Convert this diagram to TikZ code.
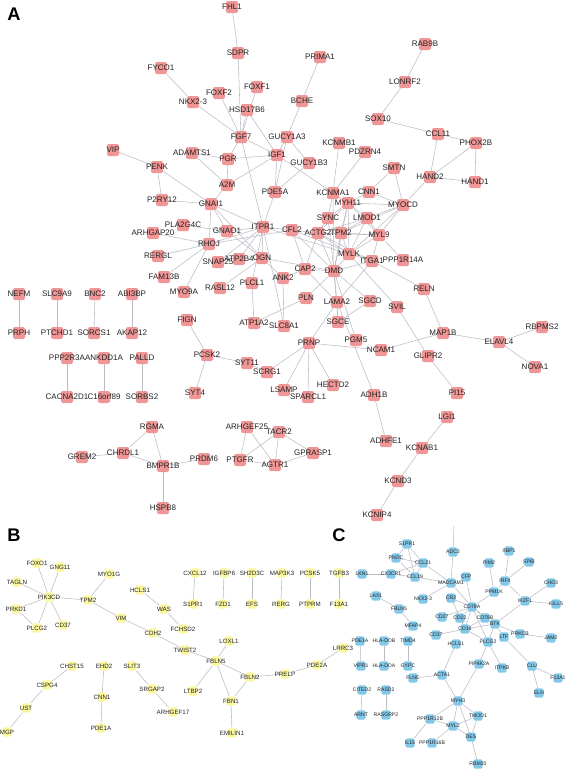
\documentclass[tikz,border=0pt]{standalone}
\usepackage{fontspec}
\setmainfont{Liberation Sans}
\usetikzlibrary{backgrounds}
\definecolor{apink}{RGB}{240,150,150}
\definecolor{byellow}{RGB}{252,248,160}
\definecolor{cblue}{RGB}{132,200,232}
\definecolor{edgegray}{RGB}{188,188,198}
\definecolor{labtext}{RGB}{35,35,35}
\newcommand\alab{\fontsize{11.4}{12}\selectfont}
\newcommand\blab{\fontsize{8.8}{9}\selectfont}
\newcommand\clab{\fontsize{7.3}{8}\selectfont}

\begin{document}
\begin{tikzpicture}[
    x=0.5mm, y=-0.5mm,
    apk/.style={fill=apink, rounded corners=1mm, minimum size=6mm, inner sep=0pt, label={[font=\alab, text=labtext]center:#1}},
    byl/.style={fill=byellow, rounded corners=0.8mm, minimum size=4.6mm, inner sep=0pt, label={[font=\blab, text=labtext]center:#1}},
    cbl/.style={fill=cblue, rounded corners=0.8mm, minimum size=4.6mm, inner sep=0pt, label={[font=\clab, text=labtext]center:#1}},
    edge/.style={draw=edgegray, line width=0.8pt},
    panel/.style={font=\fontsize{26}{28}\selectfont\bfseries, text=black}
]
\useasboundingbox (0,0) rectangle (567,770);
\node[panel] (labA) at (14,14) {A};
\node[panel] (labB) at (14,535) {B};
\node[panel] (labC) at (339,535) {C};
% panel A
\node[apk=FHL1] (aFHL1) at (232,7) {};
\node[apk=SDPR] (aSDPR) at (238,53) {};
\node[apk=FYCO1] (aFYCO1) at (161,68) {};
\node[apk=FOXF2] (aFOXF2) at (219,93) {};
\node[apk=FOXF1] (aFOXF1) at (257,87) {};
\node[apk=NKX2-3] (aNKX23) at (193,102) {};
\node[apk=HSD17B6] (aHSD17B6) at (247,110) {};
\node[apk=FGF7] (aFGF7) at (241,137) {};
\node[apk=GUCY1A3] (aGUCY1A3) at (287,137) {};
\node[apk=ADAMTS1] (aADAMTS1) at (192,153) {};
\node[apk=PGR] (aPGR) at (228,159) {};
\node[apk=IGF1] (aIGF1) at (277,155) {};
\node[apk=VIP] (aVIP) at (113,150) {};
\node[apk=PENK] (aPENK) at (157,167) {};
\node[apk=A2M] (aA2M) at (227,185) {};
\node[apk=PDE5A] (aPDE5A) at (275,192) {};
\node[apk=RAB9B] (aRAB9B) at (425,44) {};
\node[apk=PRIMA1] (aPRIMA1) at (320,57) {};
\node[apk=LONRF2] (aLONRF2) at (405,82) {};
\node[apk=BCHE] (aBCHE) at (302,101) {};
\node[apk=SOX10] (aSOX10) at (378,119) {};
\node[apk=CCL11] (aCCL11) at (438,134) {};
\node[apk=PHOX2B] (aPHOX2B) at (476,143) {};
\node[apk=KCNMB1] (aKCNMB1) at (339,143) {};
\node[apk=PDZRN4] (aPDZRN4) at (365,152) {};
\node[apk=GUCY1B3] (aGUCY1B3) at (309,163) {};
\node[apk=SMTN] (aSMTN) at (394,168) {};
\node[apk=HAND2] (aHAND2) at (430,177) {};
\node[apk=HAND1] (aHAND1) at (475,182) {};
\node[apk=P2RY12] (aP2RY12) at (162,200) {};
\node[apk=GNAI1] (aGNAI1) at (211,204) {};
\node[apk=PLA2G4C] (aPLA2G4C) at (183,225) {};
\node[apk=ARHGAP20] (aARHGAP20) at (153,233) {};
\node[apk=GNAO1] (aGNAO1) at (227,231) {};
\node[apk=ITPR1] (aITPR1) at (263,227) {};
\node[apk=RHOJ] (aRHOJ) at (209,244) {};
\node[apk=RERGL] (aRERGL) at (158,256) {};
\node[apk=SNAP25] (aSNAP25) at (218,262) {};
\node[apk=ATP2B4] (aATP2B4) at (239,259) {};
\node[apk=OGN] (aOGN) at (262,258) {};
\node[apk=FAM13B] (aFAM13B) at (164,277) {};
\node[apk=MYO9A] (aMYO9A) at (184,292) {};
\node[apk=RASL12] (aRASL12) at (220,288) {};
\node[apk=PLCL1] (aPLCL1) at (252,283) {};
\node[apk=ANK2] (aANK2) at (283,278) {};
\node[apk=NEFM] (aNEFM) at (19,294) {};
\node[apk=SLC9A9] (aSLC9A9) at (57,294) {};
\node[apk=BNC2] (aBNC2) at (95,294) {};
\node[apk=ABI3BP] (aABI3BP) at (132,294) {};
\node[apk=PRPH] (aPRPH) at (19,333) {};
\node[apk=PTCHD1] (aPTCHD1) at (57,333) {};
\node[apk=SORCS1] (aSORCS1) at (94,333) {};
\node[apk=AKAP12] (aAKAP12) at (132,333) {};
\node[apk=FIGN] (aFIGN) at (187,320) {};
\node[apk=ATP1A2] (aATP1A2) at (254,323) {};
\node[apk=SLC8A1] (aSLC8A1) at (284,326) {};
\node[apk=PPP2R3A] (aPPP2R3A) at (67,358) {};
\node[apk=ANKDD1A] (aANKDD1A) at (104,358) {};
\node[apk=PALLD] (aPALLD) at (142,358) {};
\node[apk=PCSK2] (aPCSK2) at (207,355) {};
\node[apk=SYT11] (aSYT11) at (247,363) {};
\node[apk=KCNMA1] (aKCNMA1) at (333,193) {};
\node[apk=CNN1] (aCNN1) at (369,192) {};
\node[apk=MYH11] (aMYH11) at (348,203) {};
\node[apk=MYOCD] (aMYOCD) at (403,205) {};
\node[apk=SYNC] (aSYNC) at (328,218) {};
\node[apk=LMOD1] (aLMOD1) at (367,218) {};
\node[apk=CFL2] (aCFL2) at (292,230) {};
\node[apk=ACTG2] (aACTG2) at (318,233) {};
\node[apk=TPM2] (aTPM2) at (341,233) {};
\node[apk=MYL9] (aMYL9) at (379,235) {};
\node[apk=MYLK] (aMYLK) at (349,254) {};
\node[apk=ITGA1] (aITGA1) at (372,261) {};
\node[apk=PPP1R14A] (aPPP1R14A) at (403,260) {};
\node[apk=CAP2] (aCAP2) at (305,269) {};
\node[apk=DMD] (aDMD) at (334,271) {};
\node[apk=RELN] (aRELN) at (424,289) {};
\node[apk=PLN] (aPLN) at (306,298) {};
\node[apk=LAMA2] (aLAMA2) at (337,302) {};
\node[apk=SGCD] (aSGCD) at (370,301) {};
\node[apk=SVIL] (aSVIL) at (397,307) {};
\node[apk=SGCE] (aSGCE) at (338,322) {};
\node[apk=RBPMS2] (aRBPMS2) at (542,327) {};
\node[apk=MAP1B] (aMAP1B) at (443,333) {};
\node[apk=PGM5] (aPGM5) at (356,340) {};
\node[apk=ELAVL4] (aELAVL4) at (499,342) {};
\node[apk=PRNP] (aPRNP) at (309,343) {};
\node[apk=NCAM1] (aNCAM1) at (381,350) {};
\node[apk=GLIPR2] (aGLIPR2) at (428,356) {};
\node[apk=NOVA1] (aNOVA1) at (535,367) {};
\node[apk=CACNA2D1] (aCACNA2D1) at (67,397) {};
\node[apk=C16orf89] (aC16orf89) at (104,397) {};
\node[apk=SORBS2] (aSORBS2) at (142,397) {};
\node[apk=SYT4] (aSYT4) at (195,393) {};
\node[apk=SCRG1] (aSCRG1) at (267,372) {};
\node[apk=LSAMP] (aLSAMP) at (284,390) {};
\node[apk=HECTD2] (aHECTD2) at (333,385) {};
\node[apk=SPARCL1] (aSPARCL1) at (308,397) {};
\node[apk=ADH1B] (aADH1B) at (374,395) {};
\node[apk=PI15] (aPI15) at (457,393) {};
\node[apk=LGI1] (aLGI1) at (447,417) {};
\node[apk=RGMA] (aRGMA) at (152,427) {};
\node[apk=ARHGEF25] (aARHGEF25) at (247,427) {};
\node[apk=TACR2] (aTACR2) at (279,432) {};
\node[apk=GREM2] (aGREM2) at (82,457) {};
\node[apk=CHRDL1] (aCHRDL1) at (123,453) {};
\node[apk=PRDM6] (aPRDM6) at (204,459) {};
\node[apk=PTGFR] (aPTGFR) at (240,460) {};
\node[apk=BMPR1B] (aBMPR1B) at (163,466) {};
\node[apk=AGTR1] (aAGTR1) at (275,465) {};
\node[apk=HSPB8] (aHSPB8) at (163,508) {};
\node[apk=ADHFE1] (aADHFE1) at (386,441) {};
\node[apk=GPRASP1] (aGPRASP1) at (313,453) {};
\node[apk=KCNAB1] (aKCNAB1) at (422,448) {};
\node[apk=KCND3] (aKCND3) at (398,481) {};
\node[apk=KCNIP4] (aKCNIP4) at (377,515) {};
% panel B
\node[byl=FOXO1] (bFOXO1) at (37,563) {};
\node[byl=GNG11] (bGNG11) at (60,567) {};
\node[byl=TAGLN] (bTAGLN) at (17,582) {};
\node[byl=PIK3CD] (bPIK3CD) at (49,597) {};
\node[byl=MYO1G] (bMYO1G) at (109,574) {};
\node[byl=TPM2] (bTPM2) at (88,600) {};
\node[byl=HCLS1] (bHCLS1) at (140,590) {};
\node[byl=WAS] (bWAS) at (164,609) {};
\node[byl=PRKD1] (bPRKD1) at (16,609) {};
\node[byl=PLCG2] (bPLCG2) at (37,628) {};
\node[byl=CD37] (bCD37) at (63,625) {};
\node[byl=VIM] (bVIM) at (121,618) {};
\node[byl=FCHSD2] (bFCHSD2) at (183,629) {};
\node[byl=CDH2] (bCDH2) at (153,633) {};
\node[byl=TWIST2] (bTWIST2) at (185,650) {};
\node[byl=CHST15] (bCHST15) at (72,666) {};
\node[byl=EHD2] (bEHD2) at (104,666) {};
\node[byl=SLIT3] (bSLIT3) at (132,666) {};
\node[byl=CSPG4] (bCSPG4) at (47,685) {};
\node[byl=SRGAP2] (bSRGAP2) at (152,689) {};
\node[byl=CNN1] (bCNN1) at (102,697) {};
\node[byl=LTBP2] (bLTBP2) at (193,691) {};
\node[byl=UST] (bUST) at (26,708) {};
\node[byl=ARHGEF17] (bARHGEF17) at (173,712) {};
\node[byl=PDE1A] (bPDE1A) at (101,728) {};
\node[byl=MGP] (bMGP) at (7,732) {};
\node[byl=CXCL12] (bCXCL12) at (195,573) {};
\node[byl=IGFBP6] (bIGFBP6) at (224,573) {};
\node[byl=SH2D3C] (bSH2D3C) at (252,573) {};
\node[byl=MAP3K3] (bMAP3K3) at (282,573) {};
\node[byl=PCSK5] (bPCSK5) at (310,573) {};
\node[byl=TGFB3] (bTGFB3) at (339,573) {};
\node[byl=S1PR1] (bS1PR1) at (193,604) {};
\node[byl=FZD1] (bFZD1) at (223,604) {};
\node[byl=EFS] (bEFS) at (252,604) {};
\node[byl=RERG] (bRERG) at (281,604) {};
\node[byl=PTPRM] (bPTPRM) at (310,604) {};
\node[byl=F13A1] (bF13A1) at (339,604) {};
\node[byl=LOXL1] (bLOXL1) at (229,641) {};
\node[byl=FBLN5] (bFBLN5) at (216,661) {};
\node[byl=FBLN2] (bFBLN2) at (250,677) {};
\node[byl=PRELP] (bPRELP) at (285,674) {};
\node[byl=PDE2A] (bPDE2A) at (317,665) {};
\node[byl=LRRC3] (bLRRC3) at (343,648) {};
\node[byl=FBN1] (bFBN1) at (231,701) {};
\node[byl=EMILIN1] (bEMILIN1) at (232,733) {};
% panel C
\node[cbl=S1PR1] (cS1PR1) at (407,544) {};
\node[cbl=PNOC] (cPNOC) at (396,558) {};
\node[cbl=CCL21] (cCCL21) at (423,563) {};
\node[cbl=LKN1] (cLKN1) at (362,574) {};
\node[cbl=CX3CR1] (cCX3CR1) at (391,574) {};
\node[cbl=CCL19] (cCCL19) at (415,577) {};
\node[cbl=LAX1] (cLAX1) at (376,596) {};
\node[cbl=NKX2-3] (cNKX23) at (423,599) {};
\node[cbl=FBLN5] (cFBLN5) at (399,609) {};
\node[cbl=MFAP4] (cMFAP4) at (413,626) {};
\node[cbl=PDE1A] (cPDE1A) at (360,641) {};
\node[cbl=HLA-DOB] (cHLADOB) at (384,641) {};
\node[cbl=TIMD4] (cTIMD4) at (408,641) {};
\node[cbl=ADC3] (cADC3) at (453,552) {};
\node[cbl=XBP1] (cXBP1) at (509,551) {};
\node[cbl=PIM2] (cPIM2) at (489,563) {};
\node[cbl=SPIB] (cSPIB) at (529,562) {};
\node[cbl=CFP] (cCFP) at (466,577) {};
\node[cbl=IRF4] (cIRF4) at (505,581) {};
\node[cbl=CHD3] (cCHD3) at (551,583) {};
\node[cbl=MADCAM1] (cMADCAM1) at (451,583) {};
\node[cbl=PPM1K] (cPPM1K) at (494,592) {};
\node[cbl=CR2] (cCR2) at (451,598) {};
\node[cbl=IKZF1] (cIKZF1) at (525,601) {};
\node[cbl=IGLL5] (cIGLL5) at (556,604) {};
\node[cbl=CD79A] (cCD79A) at (472,607) {};
\node[cbl=CD27] (cCD27) at (442,617) {};
\node[cbl=CD22] (cCD22) at (460,618) {};
\node[cbl=CD79B] (cCD79B) at (485,618) {};
\node[cbl=BTK] (cBTK) at (495,624) {};
\node[cbl=CD19] (cCD19) at (465,629) {};
\node[cbl=PRKCB] (cPRKCB) at (520,634) {};
\node[cbl=JAM2] (cJAM2) at (551,638) {};
\node[cbl=CD37] (cCD37) at (436,635) {};
\node[cbl=LTF] (cLTF) at (504,637) {};
\node[cbl=PLCG2] (cPLCG2) at (488,642) {};
\node[cbl=HCLS1] (cHCLS1) at (456,644) {};
\node[cbl=VIPR1] (cVIPR1) at (361,666) {};
\node[cbl=HLA-DOA] (cHLADOA) at (384,666) {};
\node[cbl=GYPC] (cGYPC) at (408,666) {};
\node[cbl=FLNC] (cFLNC) at (413,678) {};
\node[cbl=ACTA1] (cACTA1) at (442,675) {};
\node[cbl=CITED2] (cCITED2) at (362,690) {};
\node[cbl=RASD2] (cRASD2) at (386,690) {};
\node[cbl=ARNT] (cARNT) at (361,715) {};
\node[cbl=RASGRP2] (cRASGRP2) at (386,715) {};
\node[cbl=PPP1R12B] (cPPP1R12B) at (430,719) {};
\node[cbl=IL15] (cIL15) at (410,743) {};
\node[cbl=PPP1R16B] (cPPP1R16B) at (432,743) {};
\node[cbl=PIP4K2A] (cPIP4K2A) at (479,664) {};
\node[cbl=ITPKB] (cITPKB) at (502,668) {};
\node[cbl=CLU] (cCLU) at (532,666) {};
\node[cbl=F13A1] (cF13A1) at (558,678) {};
\node[cbl=ELN] (cELN) at (539,693) {};
\node[cbl=MYH3] (cMYH3) at (458,701) {};
\node[cbl=TMOD1] (cTMOD1) at (478,716) {};
\node[cbl=MYL2] (cMYL2) at (453,726) {};
\node[cbl=DES] (cDES) at (471,737) {};
\node[cbl=RBM20] (cRBM20) at (478,764) {};
\coordinate (cADCup) at (454,526);

\begin{scope}[on background layer]
% panel A edges
\draw[edge] (aFHL1) -- (aSDPR); \draw[edge] (aSDPR) -- (aFGF7); \draw[edge] (aFOXF1) -- (aFGF7);
\draw[edge] (aHSD17B6) -- (aFGF7); \draw[edge] (aHSD17B6) -- (aIGF1); \draw[edge] (aFOXF2) -- (aFGF7);
\draw[edge] (aNKX23) -- (aFGF7); \draw[edge] (aFYCO1) -- (aNKX23); \draw[edge] (aFGF7) -- (aPGR);
\draw[edge] (aFGF7) -- (aIGF1); \draw[edge] (aFGF7) -- (aITPR1); \draw[edge] (aADAMTS1) -- (aPGR);
\draw[edge] (aADAMTS1) -- (aA2M); \draw[edge] (aPGR) -- (aIGF1); \draw[edge] (aPGR) -- (aA2M);
\draw[edge] (aIGF1) -- (aA2M); \draw[edge] (aIGF1) -- (aGUCY1A3); \draw[edge] (aIGF1) -- (aKCNMA1);
\draw[edge] (aIGF1) -- (aPDE5A); \draw[edge] (aPRIMA1) -- (aBCHE); \draw[edge] (aBCHE) -- (aGUCY1A3);
\draw[edge] (aGUCY1A3) -- (aGUCY1B3); \draw[edge] (aGUCY1A3) -- (aPDE5A); \draw[edge] (aGUCY1B3) -- (aPDE5A);
\draw[edge] (aKCNMB1) -- (aKCNMA1); \draw[edge] (aPDZRN4) -- (aKCNMA1); \draw[edge] (aRAB9B) -- (aLONRF2);
\draw[edge] (aLONRF2) -- (aSOX10); \draw[edge] (aSOX10) -- (aCCL11); \draw[edge] (aCCL11) -- (aPHOX2B);
\draw[edge] (aCCL11) -- (aHAND2); \draw[edge] (aPHOX2B) -- (aHAND2); \draw[edge] (aPHOX2B) -- (aHAND1);
\draw[edge] (aHAND2) -- (aHAND1); \draw[edge] (aHAND2) -- (aMYOCD); \draw[edge] (aSMTN) -- (aCNN1);
\draw[edge] (aSMTN) -- (aMYOCD); \draw[edge] (aVIP) -- (aPENK); \draw[edge] (aPENK) -- (aP2RY12);
\draw[edge] (aPENK) -- (aGNAI1);
\draw[edge] (aA2M) -- (aGNAI1); \draw[edge] (aP2RY12) -- (aGNAI1); \draw[edge] (aGNAI1) -- (aITPR1);
\draw[edge] (aGNAI1) -- (aGNAO1); \draw[edge] (aGNAI1) -- (aRHOJ); \draw[edge] (aGNAI1) -- (aOGN);
\draw[edge] (aPDE5A) -- (aITPR1); \draw[edge] (aPLA2G4C) -- (aGNAO1); \draw[edge] (aARHGAP20) -- (aRHOJ);
\draw[edge] (aGNAO1) -- (aITPR1); \draw[edge] (aGNAO1) -- (aOGN); \draw[edge] (aRHOJ) -- (aITPR1);
\draw[edge] (aRHOJ) -- (aCFL2); \draw[edge] (aRERGL) -- (aRHOJ); \draw[edge] (aFAM13B) -- (aRHOJ);
\draw[edge] (aMYO9A) -- (aRHOJ); \draw[edge] (aITPR1) -- (aSNAP25); \draw[edge] (aITPR1) -- (aATP2B4);
\draw[edge] (aITPR1) -- (aOGN); \draw[edge] (aITPR1) -- (aPLCL1); \draw[edge] (aRASL12) -- (aOGN);
\draw[edge] (aPLCL1) -- (aATP1A2); \draw[edge] (aITPR1) -- (aCFL2); \draw[edge] (aITPR1) -- (aMYLK);
\draw[edge] (aOGN) -- (aANK2); \draw[edge] (aOGN) -- (aDMD); \draw[edge] (aITPR1) -- (aSLC8A1);
\draw[edge] (aANK2) -- (aSLC8A1); \draw[edge] (aATP1A2) -- (aPLN);
\draw[edge] (aKCNMA1) -- (aMYH11); \draw[edge] (aKCNMA1) -- (aSYNC); \draw[edge] (aKCNMA1) -- (aDMD);
\draw[edge] (aCNN1) -- (aMYH11); \draw[edge] (aCNN1) -- (aMYOCD); \draw[edge] (aMYH11) -- (aMYOCD);
\draw[edge] (aMYH11) -- (aSYNC); \draw[edge] (aMYH11) -- (aLMOD1); \draw[edge] (aMYH11) -- (aTPM2);
\draw[edge] (aMYH11) -- (aMYLK); \draw[edge] (aMYH11) -- (aDMD); \draw[edge] (aMYH11) -- (aACTG2);
\draw[edge] (aMYH11) -- (aMYL9); \draw[edge] (aMYOCD) -- (aLMOD1); \draw[edge] (aMYOCD) -- (aMYL9);
\draw[edge] (aMYOCD) -- (aMYLK); \draw[edge] (aMYOCD) -- (aTPM2); \draw[edge] (aSYNC) -- (aDMD);
\draw[edge] (aSYNC) -- (aACTG2); \draw[edge] (aLMOD1) -- (aTPM2); \draw[edge] (aLMOD1) -- (aMYLK);
\draw[edge] (aLMOD1) -- (aACTG2); \draw[edge] (aLMOD1) -- (aMYL9); \draw[edge] (aCFL2) -- (aACTG2);
\draw[edge] (aCFL2) -- (aCAP2); \draw[edge] (aCFL2) -- (aDMD); \draw[edge] (aCFL2) -- (aITGA1);
\draw[edge] (aACTG2) -- (aTPM2); \draw[edge] (aACTG2) -- (aMYL9); \draw[edge] (aACTG2) -- (aMYLK);
\draw[edge] (aACTG2) -- (aCAP2); \draw[edge] (aACTG2) -- (aDMD); \draw[edge] (aACTG2) -- (aITGA1);
\draw[edge] (aTPM2) -- (aMYL9); \draw[edge] (aTPM2) -- (aMYLK); \draw[edge] (aTPM2) -- (aDMD);
\draw[edge] (aMYL9) -- (aMYLK); \draw[edge] (aMYL9) -- (aPPP1R14A); \draw[edge] (aMYL9) -- (aITGA1);
\draw[edge] (aMYLK) -- (aDMD); \draw[edge] (aMYLK) -- (aITGA1); \draw[edge] (aMYLK) -- (aSVIL);
\draw[edge] (aITGA1) -- (aRELN); \draw[edge] (aITGA1) -- (aLAMA2); \draw[edge] (aITGA1) -- (aDMD);
\draw[edge] (aCAP2) -- (aDMD); \draw[edge] (aCAP2) -- (aANK2); \draw[edge] (aCAP2) -- (aLAMA2);
\draw[edge] (aDMD) -- (aLAMA2); \draw[edge] (aDMD) -- (aSGCD); \draw[edge] (aDMD) -- (aSGCE);
\draw[edge] (aDMD) -- (aPLN); \draw[edge] (aDMD) -- (aPGM5); \draw[edge] (aLAMA2) -- (aSGCE);
\draw[edge] (aLAMA2) -- (aPRNP); \draw[edge] (aLAMA2) -- (aADH1B); \draw[edge] (aSGCD) -- (aSGCE);
\draw[edge] (aSVIL) -- (aGLIPR2); \draw[edge] (aGLIPR2) -- (aPI15); \draw[edge] (aRELN) -- (aMAP1B);
\draw[edge] (aMAP1B) -- (aELAVL4); \draw[edge] (aMAP1B) -- (aNCAM1); \draw[edge] (aELAVL4) -- (aRBPMS2);
\draw[edge] (aELAVL4) -- (aNOVA1); \draw[edge] (aPRNP) -- (aNCAM1); \draw[edge] (aPRNP) -- (aSCRG1);
\draw[edge] (aPRNP) -- (aLSAMP); \draw[edge] (aPRNP) -- (aSPARCL1); \draw[edge] (aPRNP) -- (aHECTD2);
\draw[edge] (aFIGN) -- (aPCSK2); \draw[edge] (aPCSK2) -- (aSYT11); \draw[edge] (aPCSK2) -- (aSYT4);
\draw[edge] (aSYT11) -- (aSCRG1);
\draw[edge] (aNEFM) -- (aPRPH); \draw[edge] (aSLC9A9) -- (aPTCHD1); \draw[edge] (aBNC2) -- (aSORCS1);
\draw[edge] (aABI3BP) -- (aAKAP12); \draw[edge] (aPPP2R3A) -- (aCACNA2D1); \draw[edge] (aANKDD1A) -- (aC16orf89);
\draw[edge] (aPALLD) -- (aSORBS2);
\draw[edge] (aRGMA) -- (aCHRDL1); \draw[edge] (aRGMA) -- (aBMPR1B); \draw[edge] (aGREM2) -- (aCHRDL1);
\draw[edge] (aCHRDL1) -- (aBMPR1B); \draw[edge] (aBMPR1B) -- (aPRDM6); \draw[edge] (aBMPR1B) -- (aHSPB8);
\draw[edge] (aARHGEF25) -- (aPTGFR); \draw[edge] (aARHGEF25) -- (aAGTR1); \draw[edge] (aTACR2) -- (aPTGFR);
\draw[edge] (aTACR2) -- (aAGTR1); \draw[edge] (aTACR2) -- (aGPRASP1); \draw[edge] (aPTGFR) -- (aAGTR1);
\draw[edge] (aAGTR1) -- (aGPRASP1);
\draw[edge] (aADH1B) -- (aADHFE1); \draw[edge] (aLGI1) -- (aKCNAB1); \draw[edge] (aKCNAB1) -- (aKCND3);
\draw[edge] (aKCND3) -- (aKCNIP4);
% panel B edges
\draw[edge] (bFOXO1) -- (bPIK3CD); \draw[edge] (bGNG11) -- (bPIK3CD); \draw[edge] (bTAGLN) -- (bPIK3CD);
\draw[edge] (bPRKD1) -- (bPIK3CD); \draw[edge] (bPRKD1) -- (bPLCG2); \draw[edge] (bPLCG2) -- (bPIK3CD);
\draw[edge] (bCD37) -- (bPIK3CD); \draw[edge] (bPIK3CD) -- (bTPM2); \draw[edge] (bMYO1G) -- (bTPM2);
\draw[edge] (bTPM2) -- (bVIM); \draw[edge] (bVIM) -- (bCDH2); \draw[edge] (bCDH2) -- (bTWIST2);
\draw[edge] (bTWIST2) -- (bFBLN5); \draw[edge] (bHCLS1) -- (bWAS); \draw[edge] (bWAS) -- (bFCHSD2);
\draw[edge] (bCXCL12) -- (bS1PR1); \draw[edge] (bIGFBP6) -- (bFZD1); \draw[edge] (bSH2D3C) -- (bEFS);
\draw[edge] (bMAP3K3) -- (bRERG); \draw[edge] (bPCSK5) -- (bPTPRM); \draw[edge] (bTGFB3) -- (bF13A1);
\draw[edge] (bCHST15) -- (bCSPG4); \draw[edge] (bCSPG4) -- (bUST); \draw[edge] (bUST) -- (bMGP);
\draw[edge] (bEHD2) -- (bCNN1); \draw[edge] (bCNN1) -- (bPDE1A); \draw[edge] (bSLIT3) -- (bSRGAP2);
\draw[edge] (bSRGAP2) -- (bARHGEF17); \draw[edge] (bLTBP2) -- (bFBLN5); \draw[edge] (bLOXL1) -- (bFBLN5);
\draw[edge] (bFBLN5) -- (bFBLN2); \draw[edge] (bFBLN5) -- (bFBN1); \draw[edge] (bFBLN2) -- (bFBN1);
\draw[edge] (bFBLN2) -- (bPRELP); \draw[edge] (bPRELP) -- (bPDE2A); \draw[edge] (bPDE2A) -- (bLRRC3);
\draw[edge] (bFBN1) -- (bEMILIN1);
% panel C edges
\draw[edge] (cS1PR1) -- (cPNOC); \draw[edge] (cS1PR1) -- (cCCL21); \draw[edge] (cS1PR1) -- (cCCL19);
\draw[edge] (cPNOC) -- (cCCL21); \draw[edge] (cPNOC) -- (cCCL19); \draw[edge] (cCCL21) -- (cCCL19);
\draw[edge] (cCX3CR1) -- (cCCL21); \draw[edge] (cCX3CR1) -- (cCCL19); \draw[edge] (cLKN1) -- (cCX3CR1);
\draw[edge] (cCCL21) -- (cMADCAM1); \draw[edge] (cCCL19) -- (cMADCAM1); \draw[edge] (cNKX23) -- (cMADCAM1);
\draw[edge] (cADC3) -- (cMADCAM1); \draw[edge] (cADC3) -- (cADCup); \draw[edge] (cMADCAM1) -- (cCD79A);
\draw[edge] (cCFP) -- (cCD79A); \draw[edge] (cCR2) -- (cCD79A); \draw[edge] (cCR2) -- (cCD19);
\draw[edge] (cCD79A) -- (cCD27); \draw[edge] (cCD79A) -- (cCD22); \draw[edge] (cCD79A) -- (cCD19);
\draw[edge] (cCD79A) -- (cCD79B); \draw[edge] (cCD79A) -- (cBTK); \draw[edge] (cCD79A) -- (cPLCG2);
\draw[edge] (cCD79A) -- (cPPM1K); \draw[edge] (cCD79B) -- (cBTK); \draw[edge] (cCD79B) -- (cCD19);
\draw[edge] (cCD22) -- (cCD19); \draw[edge] (cCD19) -- (cCD37); \draw[edge] (cCD19) -- (cBTK);
\draw[edge] (cCD19) -- (cPLCG2); \draw[edge] (cBTK) -- (cPLCG2); \draw[edge] (cBTK) -- (cPRKCB);
\draw[edge] (cBTK) -- (cIKZF1); \draw[edge] (cBTK) -- (cLTF); \draw[edge] (cPRKCB) -- (cJAM2);
\draw[edge] (cIKZF1) -- (cIRF4); \draw[edge] (cIKZF1) -- (cCHD3); \draw[edge] (cIKZF1) -- (cIGLL5);
\draw[edge] (cIRF4) -- (cXBP1); \draw[edge] (cIRF4) -- (cSPIB); \draw[edge] (cIRF4) -- (cPPM1K);
\draw[edge] (cPIM2) -- (cPPM1K); \draw[edge] (cPLCG2) -- (cPIP4K2A); \draw[edge] (cPLCG2) -- (cITPKB);
\draw[edge] (cLTF) -- (cCLU); \draw[edge] (cCLU) -- (cF13A1); \draw[edge] (cCLU) -- (cELN);
\draw[edge] (cLAX1) -- (cFBLN5); \draw[edge] (cFBLN5) -- (cMFAP4); \draw[edge] (cPDE1A) -- (cVIPR1);
\draw[edge] (cHLADOB) -- (cHLADOA); \draw[edge] (cTIMD4) -- (cGYPC); \draw[edge] (cCITED2) -- (cARNT);
\draw[edge] (cRASD2) -- (cRASGRP2); \draw[edge] (cFLNC) -- (cACTA1); \draw[edge] (cACTA1) -- (cHCLS1);
\draw[edge] (cACTA1) -- (cMYH3); \draw[edge] (cPIP4K2A) -- (cMYH3); \draw[edge] (cMYH3) -- (cPPP1R12B);
\draw[edge] (cMYH3) -- (cMYL2); \draw[edge] (cMYH3) -- (cTMOD1); \draw[edge] (cMYH3) -- (cDES);
\draw[edge] (cPPP1R12B) -- (cMYL2); \draw[edge] (cPPP1R12B) -- (cIL15); \draw[edge] (cMYL2) -- (cPPP1R16B);
\draw[edge] (cMYL2) -- (cTMOD1); \draw[edge] (cMYL2) -- (cDES); \draw[edge] (cTMOD1) -- (cDES);
\draw[edge] (cDES) -- (cRBM20);
\end{scope}
\end{tikzpicture}
\end{document}
